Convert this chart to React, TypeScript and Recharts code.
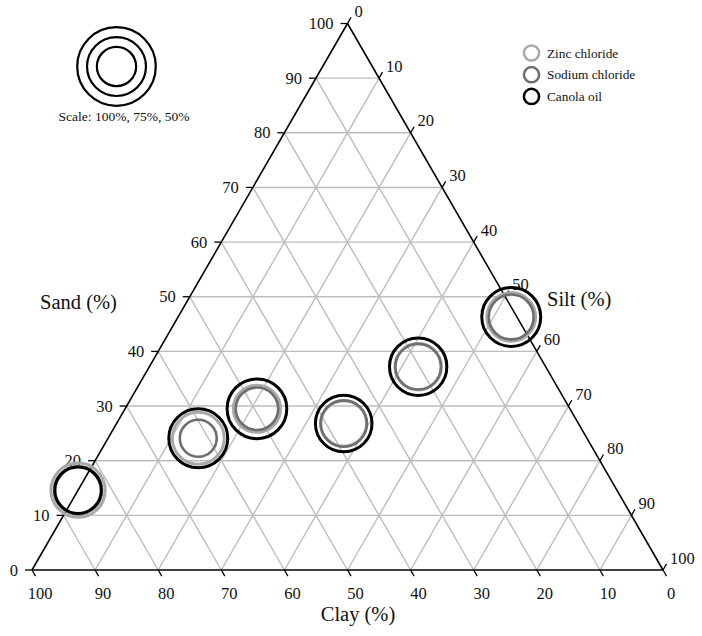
import React from 'react';
import { ScatterChart, Scatter, XAxis, YAxis, ReferenceLine } from 'recharts';

// Soil samples (ternary composition, %)
const samples = ['S1', 'S2', 'S3', 'S4', 'S5', 'S6'];
const sand = [14.6, 24.1, 29.5, 26.8, 37.2, 46.3];
const silt = [0.0, 14.3, 20.9, 36.0, 42.6, 52.8];
const clay = [85.4, 61.6, 49.6, 37.2, 20.2, 0.9];

// Relative response (%) shown as circle size
const zincChloride = [69, 66, 60, 58, 59, 62];
const sodiumChloride = [61, 47, 54, 59, 58, 57];
const canolaOil = [59, 75, 76, 72, 73, 75];

const gridTicks = [10, 20, 30, 40, 50, 60, 70, 80, 90];
const axisTicks = [0, 10, 20, 30, 40, 50, 60, 70, 80, 90, 100];
const scalePercents = [100, 75, 50];

const seriesNames = ['Zinc chloride', 'Sodium chloride', 'Canola oil'];
const seriesColors = ['#a9a9a9', '#6e6e6e', '#000000'];

const FONT = '"Liberation Serif", "Times New Roman", serif';
const R_PER_PCT = 39.3 / 100;

// ternary -> cartesian (x: 0..100 along base, y: sand height 0..100)
const toXY = (s: number, t: number) => ({ x: t + s / 2, y: s });

const makeSeries = (vals: number[]) =>
  samples.map((name, i) => ({ name, ...toXY(sand[i], silt[i]), clay: clay[i], pct: vals[i] }));

const zincData = makeSeries(zincChloride);
const sodiumData = makeSeries(sodiumChloride);
const canolaData = makeSeries(canolaOil);

const sandTickPts = axisTicks.map((v) => ({ x: v / 2, y: v, label: v }));
const clayTickPts = axisTicks.map((v) => ({ x: 100 - v, y: 0, label: v }));
const siltTickPts = axisTicks.map((v) => ({ x: 50 + v / 2, y: 100 - v, label: v }));

const ring = (color: string, width: number) => (p: any) =>
  p.cx == null ? <g /> : (
    <circle cx={p.cx} cy={p.cy} r={p.payload.pct * R_PER_PCT} fill="none" stroke={color} strokeWidth={width} />
  );

const TL = 7;
const sandTick = (p: any) =>
  p.cx == null ? <g /> : (
    <g>
      <line x1={p.cx} y1={p.cy} x2={p.cx - TL} y2={p.cy} stroke="#000" strokeWidth={1.3} />
      <text x={p.cx - 14} y={p.cy} textAnchor="end" dominantBaseline="central" fontFamily={FONT} fontSize={16.5} fill="#111">
        {p.payload.label}
      </text>
    </g>
  );
const clayTick = (p: any) =>
  p.cx == null ? <g /> : (
    <g>
      <line x1={p.cx} y1={p.cy} x2={p.cx + TL * 0.5} y2={p.cy + TL * 0.866} stroke="#000" strokeWidth={1.3} />
      <text x={p.cx + 8} y={p.cy + 23} textAnchor="middle" dominantBaseline="central" fontFamily={FONT} fontSize={16.5} fill="#111">
        {p.payload.label}
      </text>
    </g>
  );
const siltTick = (p: any) =>
  p.cx == null ? <g /> : (
    <g>
      <line x1={p.cx} y1={p.cy} x2={p.cx + TL * 0.5} y2={p.cy - TL * 0.866} stroke="#000" strokeWidth={1.3} />
      <text x={p.cx + 7} y={p.cy - 12} textAnchor="start" dominantBaseline="central" fontFamily={FONT} fontSize={16.5} fill="#111">
        {p.payload.label}
      </text>
    </g>
  );

export default function App() {
  return (
    <div style={{ position: 'relative', width: 702, height: 636, background: '#fff' }}>
      <style>{'body{margin:0;background:#fff}'}</style>
      <ScatterChart width={702} height={636} margin={{ top: 23.5, right: 39, bottom: 66, left: 32 }} style={{ overflow: 'visible' }}>
        <XAxis type="number" dataKey="x" domain={[0, 100]} hide />
        <YAxis type="number" dataKey="y" domain={[0, 100]} hide />
        {gridTicks.map((v) => (
          <ReferenceLine key={'s' + v} segment={[{ x: v / 2, y: v }, { x: 100 - v / 2, y: v }]} stroke="#bdbdbd" strokeWidth={1.4} ifOverflow="visible" />
        ))}
        {gridTicks.map((v) => (
          <ReferenceLine key={'t' + v} segment={[{ x: v, y: 0 }, { x: 50 + v / 2, y: 100 - v }]} stroke="#bdbdbd" strokeWidth={1.4} ifOverflow="visible" />
        ))}
        {gridTicks.map((v) => (
          <ReferenceLine key={'c' + v} segment={[{ x: 100 - v, y: 0 }, { x: (100 - v) / 2, y: 100 - v }]} stroke="#bdbdbd" strokeWidth={1.4} ifOverflow="visible" />
        ))}
        <ReferenceLine segment={[{ x: 0, y: 0 }, { x: 100, y: 0 }]} stroke="#000" strokeWidth={1.6} ifOverflow="visible" />
        <ReferenceLine segment={[{ x: 0, y: 0 }, { x: 50, y: 100 }]} stroke="#000" strokeWidth={1.6} ifOverflow="visible" />
        <ReferenceLine segment={[{ x: 50, y: 100 }, { x: 100, y: 0 }]} stroke="#000" strokeWidth={1.6} ifOverflow="visible" />
        <Scatter name="sandTicks" data={sandTickPts} shape={sandTick} isAnimationActive={false} legendType="none" />
        <Scatter name="clayTicks" data={clayTickPts} shape={clayTick} isAnimationActive={false} legendType="none" />
        <Scatter name="siltTicks" data={siltTickPts} shape={siltTick} isAnimationActive={false} legendType="none" />
        <Scatter name={seriesNames[0]} data={zincData} shape={ring(seriesColors[0], 3)} isAnimationActive={false} />
        <Scatter name={seriesNames[1]} data={sodiumData} shape={ring(seriesColors[1], 2.6)} isAnimationActive={false} />
        <Scatter name={seriesNames[2]} data={canolaData} shape={ring(seriesColors[2], 3)} isAnimationActive={false} />
      </ScatterChart>
      <svg width={702} height={636} style={{ position: 'absolute', left: 0, top: 0, pointerEvents: 'none' }}>
        {scalePercents.map((p) => (
          <circle key={p} cx={116.5} cy={66.5} r={p * R_PER_PCT} fill="none" stroke="#000" strokeWidth={2.2} />
        ))}
        <text x={124} y={116} textAnchor="middle" dominantBaseline="central" fontFamily={FONT} fontSize={13.5} fill="#111">
          Scale: 100%, 75%, 50%
        </text>
        {seriesNames.map((n, i) => (
          <g key={n}>
            <circle cx={531.5} cy={53 + i * 21.7} r={7.6} fill="none" stroke={seriesColors[i]} strokeWidth={2.5} />
            <text x={547} y={53 + i * 21.7} dominantBaseline="central" fontFamily={FONT} fontSize={13.3} fill="#111">
              {n}
            </text>
          </g>
        ))}
        <text x={40} y={302} dominantBaseline="central" fontFamily={FONT} fontSize={20.5} fill="#111">Sand (%)</text>
        <text x={547} y={299} dominantBaseline="central" fontFamily={FONT} fontSize={20.5} fill="#111">Silt (%)</text>
        <text x={358} y={614} textAnchor="middle" dominantBaseline="central" fontFamily={FONT} fontSize={20.5} fill="#111">Clay (%)</text>
      </svg>
    </div>
  );
}
